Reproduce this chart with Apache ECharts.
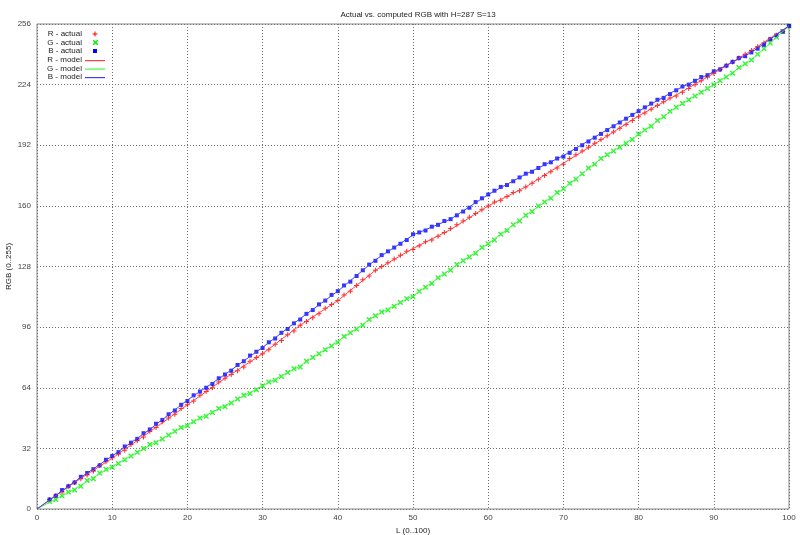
<!DOCTYPE html>
<html><head><meta charset="utf-8">
<script src="https://cdn.jsdelivr.net/npm/echarts@6/dist/echarts.min.js"></script>
<style>html,body{margin:0;padding:0;background:#fff}#c{width:800px;height:535px}</style>
</head><body><div id="c"></div>
<script>
const titleText = 'Actual vs. computed RGB with H=287 S=13';
const xName = 'L (0..100)';
const yName = 'RGB (0..255)';
const legendNames = ['R - actual','G - actual','B - actual','R - model','G - model','B - model'];

// sample L values of the measured points
const sampleL = [1.67,2.5,3.33,4.17,
 5,5.83,6.67,7.5,8.33,9.17, 10,10.83,11.67,12.5,13.33,14.17, 15,15.83,16.67,17.5,18.33,19.17,
 20,20.83,21.67,22.5,23.33,24.17, 25,25.83,26.67,27.5,28.33,29.17, 30,30.83,31.67,32.5,33.33,34.17,
 35,35.83,36.67,37.5,38.33,39.17, 40,40.83,41.67,42.5,43.33,44.17, 45,45.83,46.67,47.5,48.33,49.17,
 50,50.83,51.67,52.5,53.33,54.17, 55,55.83,56.67,57.5,58.33,59.17, 60,60.83,61.67,62.5,63.33,64.17,
 65,65.83,66.67,67.5,68.33,69.17, 70,70.83,71.67,72.5,73.33,74.17, 75,75.83,76.67,77.5,78.33,79.17,
 80,80.83,81.67,82.5,83.33,84.17, 85,85.83,86.67,87.5,88.33,89.17, 90,90.83,91.67,92.5,93.33,94.17,
 95,95.83,96.67,97.5,98.33,99.17, 100];
const rActual = [5,7,9,12,
 14,16,18,20,23,25, 27,29,31,34,36,38, 41,43,46,48,50,53, 55,57,60,62,64,67, 69,71,73,75,78,80,
 82,84,87,89,92,94, 97,99,101,103,106,108, 110,113,115,118,121,123, 126,128,130,132,134,136,
 137,139,141,142,144,146, 148,150,152,154,156,158, 160,162,163,165,167,168, 170,172,174,176,178,180,
 182,185,187,189,191,193, 195,197,199,201,203,205, 207,209,211,213,215,217, 218,220,222,224,226,228,
 230,232,234,236,238,240, 242,244,246,248,250,252, 255];
const gActual = [4,5,7,9,
 10,12,15,16,19,21, 22,24,26,28,30,32, 34,35,37,39,41,43, 44,46,48,49,51,53, 54,56,58,60,61,63,
 65,67,68,70,72,74, 75,78,80,82,84,86, 88,91,93,95,97,100, 102,104,105,107,109,111,
 112,115,117,119,122,124, 126,129,131,133,135,138, 140,142,145,147,150,152, 155,157,160,162,164,167,
 169,172,174,177,180,182, 185,187,189,191,193,195, 198,200,202,205,207,210, 212,214,216,218,220,222,
 224,226,228,230,233,235, 237,240,243,246,249,252, 255];
const bActual = [5,7,10,12,
 14,17,19,21,23,26, 28,30,33,35,37,40, 42,45,47,50,52,55, 57,60,62,64,66,69, 71,73,76,78,81,83,
 85,88,90,93,95,98, 100,103,105,108,110,113, 115,118,120,123,126,129, 131,134,136,138,140,142,
 145,146,147,149,150,152, 153,155,157,159,162,164, 166,168,170,171,173,175, 177,178,180,182,183,185,
 186,188,190,192,194,196, 198,200,202,204,206,208, 210,212,214,216,217,219, 221,223,224,226,228,229,
 231,232,234,236,238,239, 241,243,245,248,250,252, 255];

// model curves
const modelL = [0,5,10,15,20,25,30,35,40,45,50,55,60,65,70,75,80,85,90,95,100];
const rModel = [0,14,26.8,40.8,55,69,82,97,110,126,137.5,147.5,160,170,182.5,194.8,207.5,218.5,230,242,255];
const gModel = [0,10.5,22.5,33.5,44.5,54.5,65,75.5,88.5,102,112.5,126.5,140,155,169,185,197.5,212,224,237,255];
const bModel = [0,14.4,28,42,57.5,71,85.3,100.5,115,131.5,144.6,153,166,176.8,186.5,198.3,210,221.2,230.8,241,255];

const RED='#ff0000', GREEN='#00ee00', BLUE='#0000ff';
const RLINE='#ff4040', GLINE='#40ff40', BLINE='#4040ff';
const PLUS='path://M2,0h1v5h-1z M0,2h5v1h-5z';
const CROSS='path://M0,0L1,0L5,4L5,5L4,5L0,1Z M4,0L5,0L5,1L1,5L0,5L0,4Z';
const FONT='"Liberation Sans", sans-serif';

const pairs=(xs,ys)=>xs.map((x,i)=>[x,ys[i]]);
const chart=echarts.init(document.getElementById('c'),null,{renderer:'canvas'});

const gridLine={show:true,lineStyle:{color:'#707070',type:[1,2],width:1}};
const legendGraphics=[];
legendNames.forEach((n,i)=>{
  const y=34+i*8.6;
  legendGraphics.push({type:'text',id:'lt'+i,x:82,y:y,z:10,style:{text:n,font:'8px '+FONT,fill:'#222',textAlign:'right',textVerticalAlign:'middle'}});
});
const lineRows=[[RLINE,60],[GLINE,68.5],[BLINE,77]];
legendGraphics.push(
  {type:'rect',id:'m1',z:10,shape:{x:94.5,y:31.5,width:1,height:5},style:{fill:RED}},
  {type:'rect',id:'m2',z:10,shape:{x:92.5,y:33.5,width:5,height:1},style:{fill:RED}},
  {type:'polygon',id:'m3',z:10,shape:{points:[[93,40],[94,40],[98,44],[98,45],[97,45],[93,41]]},style:{fill:GREEN}},
  {type:'polygon',id:'m3b',z:10,shape:{points:[[97,40],[98,40],[98,41],[94,45],[93,45],[93,44]]},style:{fill:GREEN}},
  {type:'rect',id:'m4',z:10,shape:{x:93,y:49,width:4,height:4},style:{fill:BLUE}}
);
lineRows.forEach((r,i)=>legendGraphics.push({type:'rect',id:'ml'+i,z:10,shape:{x:85,y:r[1],width:20,height:1.2},style:{fill:r[0],stroke:null,lineWidth:0}}));

chart.setOption({
  animation:false,
  backgroundColor:'#ffffff',
  title:{text:titleText,left:413,top:6,textAlign:'center',textStyle:{fontFamily:FONT,fontSize:8,fontWeight:'normal',color:'#222'}},
  grid:{left:37,right:11,top:24,bottom:26,containLabel:false,outerBoundsMode:'none',show:true,borderColor:'#888',borderWidth:1,backgroundColor:'transparent'},
  xAxis:{type:'value',min:0,max:100,interval:10,name:xName,nameLocation:'middle',nameGap:18,nameMoveOverlap:false,
    nameTextStyle:{fontFamily:FONT,fontSize:8,color:'#222'},
    axisLine:{show:false},axisTick:{show:false},
    axisLabel:{fontFamily:FONT,fontSize:8,color:'#444',margin:5},
    splitLine:gridLine},
  yAxis:{type:'value',min:0,max:256,interval:32,name:yName,nameLocation:'middle',nameGap:24,nameMoveOverlap:false,
    nameTextStyle:{fontFamily:FONT,fontSize:8,color:'#222'},
    axisLine:{show:false},axisTick:{show:false},
    axisLabel:{fontFamily:FONT,fontSize:8,color:'#444',margin:6},
    splitLine:gridLine},
  graphic:legendGraphics,
  series:[
    {name:legendNames[0],type:'scatter',data:pairs(sampleL,rActual),symbol:PLUS,symbolSize:5,itemStyle:{color:RED,opacity:0.85},z:2},
    {name:legendNames[1],type:'scatter',data:pairs(sampleL,gActual),symbol:CROSS,symbolSize:5,itemStyle:{color:GREEN},z:2},
    {name:legendNames[2],type:'scatter',data:pairs(sampleL,bActual),symbol:'rect',symbolSize:4,itemStyle:{color:BLUE},z:2},
    {name:legendNames[3],type:'line',data:pairs(modelL,rModel),showSymbol:false,symbol:'none',lineStyle:{color:RLINE,width:1},z:3},
    {name:legendNames[4],type:'line',data:pairs(modelL,gModel),showSymbol:false,symbol:'none',lineStyle:{color:GLINE,width:1},z:3},
    {name:legendNames[5],type:'line',data:pairs(modelL,bModel),showSymbol:false,symbol:'none',lineStyle:{color:BLINE,width:1},z:3}
  ]
});
</script></body></html>
